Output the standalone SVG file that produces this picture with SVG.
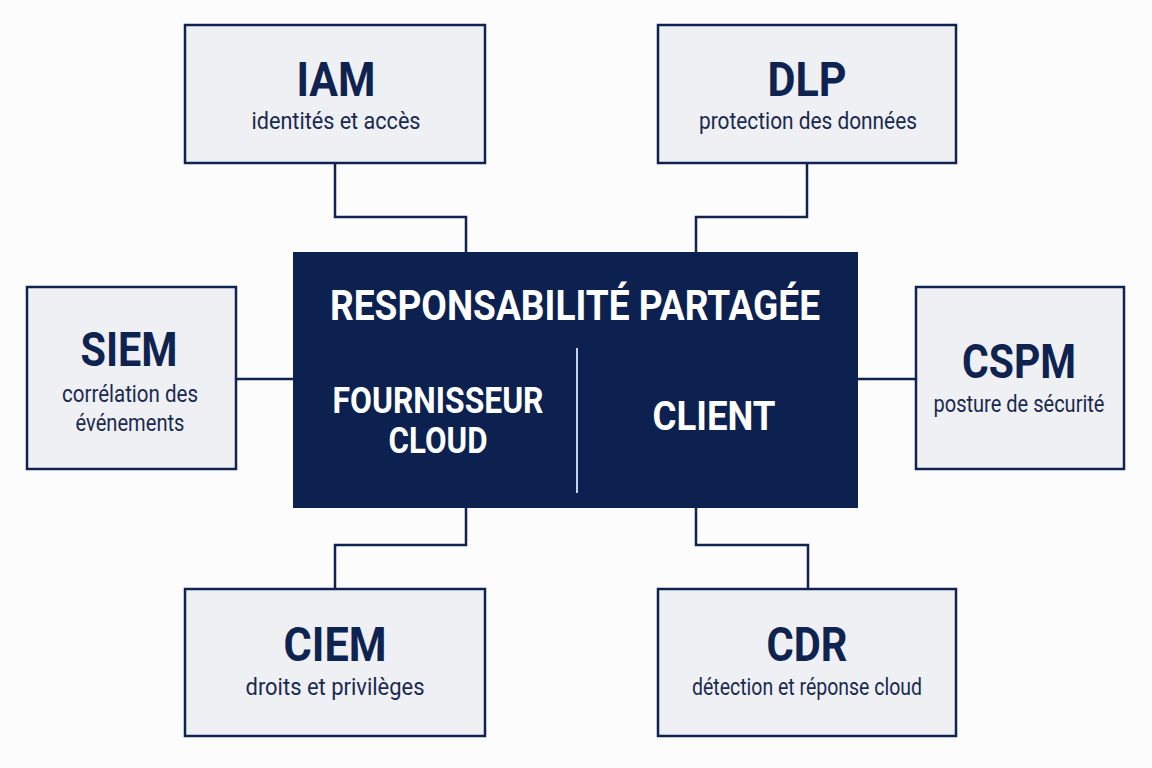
<svg xmlns="http://www.w3.org/2000/svg" width="1152" height="768" viewBox="0 0 1152 768">
<style>
.box{fill:#eef0f4;stroke:#0f2350;stroke-width:2.5}
.core{fill:#0c2150}
.conn{fill:none;stroke:#0f2350;stroke-width:2.5}
.t{font-family:Roboto,"Liberation Sans",sans-serif;font-weight:700;font-size:48px;fill:#0f2350;text-anchor:middle}
.s{font-family:Roboto,"Liberation Sans",sans-serif;font-weight:400;font-size:23px;fill:#1a2a4f;text-anchor:middle}
.w{font-family:Roboto,"Liberation Sans",sans-serif;font-weight:700;fill:#ffffff;text-anchor:middle}
</style>
<rect width="1152" height="768" fill="#fcfcfd"/>
<g id="connectors">
<polyline class="conn" points="335,163 335,217 466,217 466,252"/>
<polyline class="conn" points="807,163 807,217 696,217 696,252"/>
<polyline class="conn" points="236,379 293,379"/>
<polyline class="conn" points="858,379 916,379"/>
<polyline class="conn" points="466,508 466,545 335,545 335,589"/>
<polyline class="conn" points="696,508 696,545 808,545 808,589"/>
</g>
<g id="center">
<rect class="core" x="293" y="252" width="565" height="256"/>
<text class="w" x="575" y="320" font-size="42" textLength="490" lengthAdjust="spacingAndGlyphs">RESPONSABILITÉ PARTAGÉE</text>
<line x1="577" y1="348" x2="577" y2="493" stroke="#c9d3e8" stroke-width="2"/>
<text class="w" x="438" y="413" font-size="37" textLength="211" lengthAdjust="spacingAndGlyphs">FOURNISSEUR</text>
<text class="w" x="438" y="453" font-size="37" textLength="99" lengthAdjust="spacingAndGlyphs">CLOUD</text>
<text class="w" x="714" y="430" font-size="40" textLength="123" lengthAdjust="spacingAndGlyphs">CLIENT</text>
</g>
<g id="iam">
<rect class="box" x="185" y="25" width="300" height="138"/>
<text class="t" x="336" y="96" textLength="79" lengthAdjust="spacingAndGlyphs">IAM</text>
<text class="s" x="336" y="129" textLength="169" lengthAdjust="spacingAndGlyphs">identités et accès</text>
</g>
<g id="dlp">
<rect class="box" x="658" y="25" width="298" height="138"/>
<text class="t" x="807" y="96" textLength="79" lengthAdjust="spacingAndGlyphs">DLP</text>
<text class="s" x="808" y="129" textLength="218" lengthAdjust="spacingAndGlyphs">protection des données</text>
</g>
<g id="siem">
<rect class="box" x="27" y="287" width="209" height="182"/>
<text class="t" x="129" y="366" textLength="97" lengthAdjust="spacingAndGlyphs">SIEM</text>
<text class="s" x="130" y="402" textLength="136" lengthAdjust="spacingAndGlyphs">corrélation des</text>
<text class="s" x="130" y="431" textLength="109" lengthAdjust="spacingAndGlyphs">événements</text>
</g>
<g id="cspm">
<rect class="box" x="916" y="287" width="208" height="182"/>
<text class="t" x="1019" y="378" textLength="114" lengthAdjust="spacingAndGlyphs">CSPM</text>
<text class="s" x="1019" y="412" textLength="171" lengthAdjust="spacingAndGlyphs">posture de sécurité</text>
</g>
<g id="ciem">
<rect class="box" x="185" y="589" width="300" height="147"/>
<text class="t" x="335" y="661" textLength="103" lengthAdjust="spacingAndGlyphs">CIEM</text>
<text class="s" x="335" y="695" textLength="179" lengthAdjust="spacingAndGlyphs">droits et privilèges</text>
</g>
<g id="cdr">
<rect class="box" x="658" y="589" width="298" height="147"/>
<text class="t" x="807" y="661" textLength="81" lengthAdjust="spacingAndGlyphs">CDR</text>
<text class="s" x="807" y="695" textLength="230" lengthAdjust="spacingAndGlyphs">détection et réponse cloud</text>
</g>
</svg>
